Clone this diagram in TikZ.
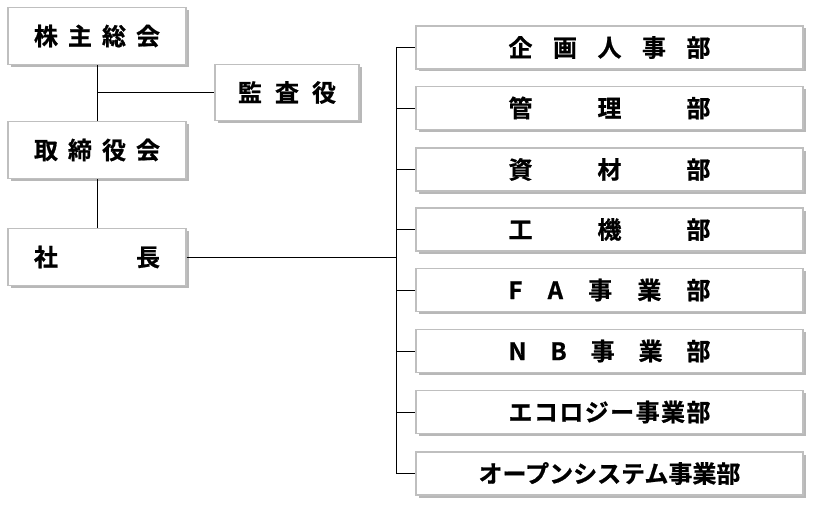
\documentclass[tikz,border=0pt]{standalone}
\usepackage{fontspec}
\newfontfamily\jp[FakeBold=0.8]{Noto Sans CJK JP Bold}
\usetikzlibrary{shadows}
\begin{document}
\begin{tikzpicture}[x=1pt,y=-1pt,
  box/.style={draw=gray!50, line width=1.4pt, fill=white, inner sep=0pt,
    font=\jp\fontsize{24}{24}\selectfont,
    drop shadow={shadow xshift=2.5pt, shadow yshift=-2.5pt, fill=black, opacity=0.28}},
  lbox/.style={box, minimum width=178pt, minimum height=57pt},
  kbox/.style={box, minimum width=144pt, minimum height=56pt},
  rbox/.style={box, minimum width=387pt, minimum height=43pt},
  conn/.style={draw=black, line width=0.8pt}]
\useasboundingbox (0,0) rectangle (817,511);
\node[lbox] (kabu) at (97,36) {\makebox[126pt][s]{株\hfill 主\hfill 総\hfill 会}};
\node[kbox] (kansa) at (287,92.5) {\makebox[98pt][s]{監\hfill 査\hfill 役}};
\node[lbox] (tori) at (97,150) {\makebox[126pt][s]{取\hfill 締\hfill 役\hfill 会}};
\node[lbox] (sha) at (97,257) {\makebox[126pt][s]{社\hfill 長}};
\node[rbox] (d1) at (609.5,47.5) {\makebox[202pt][s]{企\hfill 画\hfill 人\hfill 事\hfill 部}};
\node[rbox] (d2) at (609.5,108) {\makebox[202pt][s]{管\hfill 理\hfill 部}};
\node[rbox] (d3) at (609.5,169.5) {\makebox[202pt][s]{資\hfill 材\hfill 部}};
\node[rbox] (d4) at (609.5,229.5) {\makebox[202pt][s]{工\hfill 機\hfill 部}};
\node[rbox] (d5) at (609.5,290) {\makebox[202pt][s]{F\hfill A\hfill 事\hfill 業\hfill 部}};
\node[rbox] (d6) at (609.5,351) {\makebox[202pt][s]{N\hfill B\hfill 事\hfill 業\hfill 部}};
\node[rbox] (d7) at (609.5,412) {\makebox[202pt][s]{エ\hfill コ\hfill ロ\hfill ジ\hfill ー\hfill 事\hfill 業\hfill 部}};
\node[rbox] (d8) at (609.5,473.5) {オープンシステム事業部};
\coordinate (bx) at (396,0);
\draw[conn] (kabu.south) -- (tori.north);
\draw[conn] (kabu.south |- kansa.west) -- (kansa.west);
\draw[conn] (tori.south) -- (sha.north);
\draw[conn] (sha.east) -- (sha.east -| bx);
\draw[conn] (d1.west -| bx) -- (d8.west -| bx);
\foreach \i in {1,...,8} \draw[conn] (d\i.west -| bx) -- (d\i.west);
\end{tikzpicture}
\end{document}
